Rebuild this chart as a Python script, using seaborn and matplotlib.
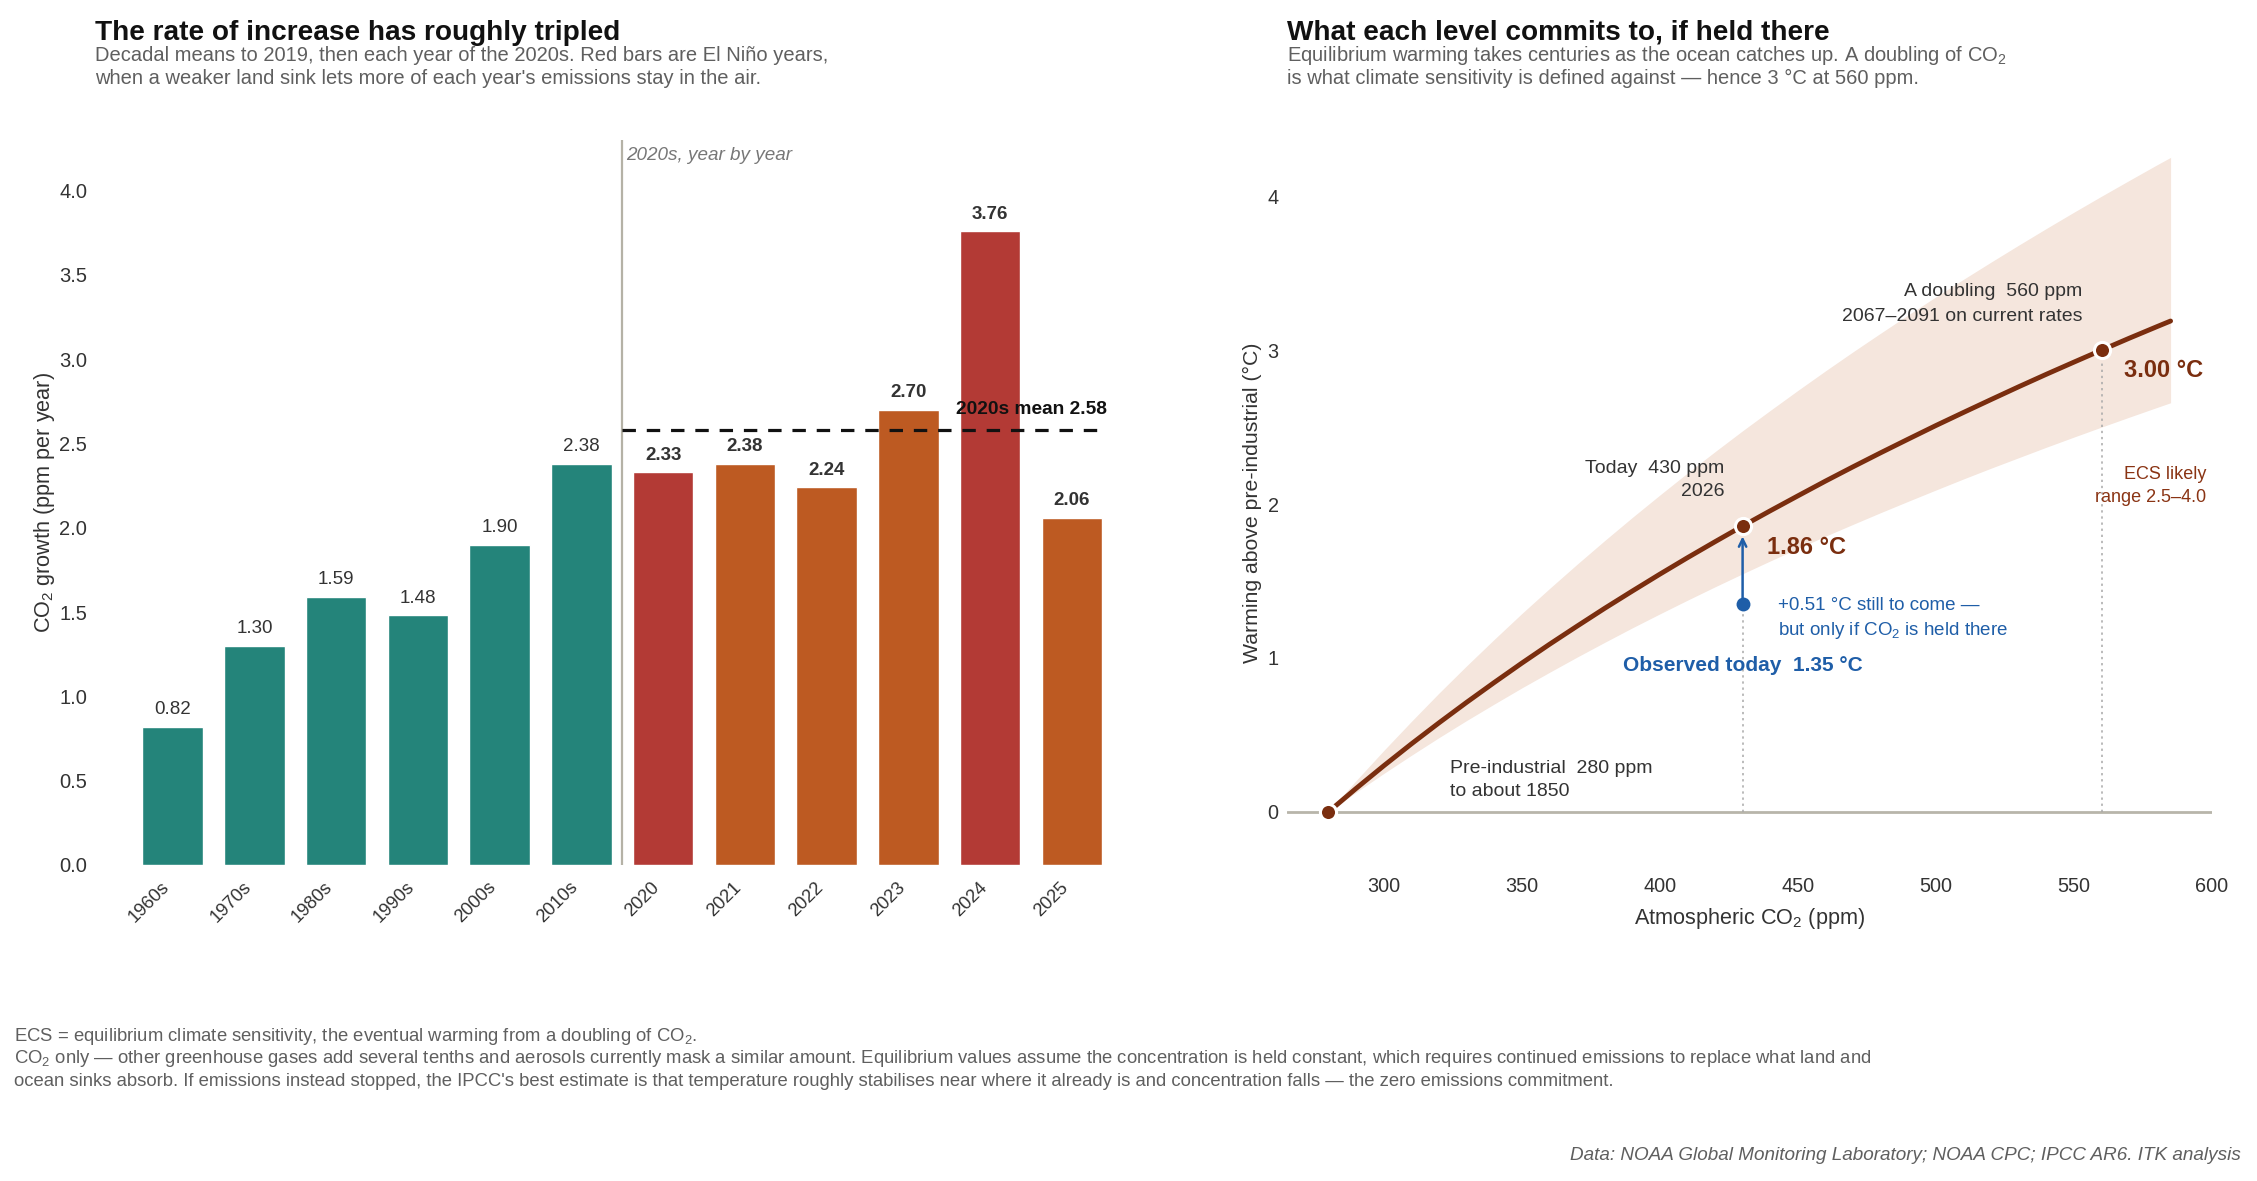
import numpy as np
import pandas as pd
import matplotlib
matplotlib.use("Agg")
import matplotlib.pyplot as plt
import seaborn as sns

# ---------------- data ----------------
periods = ["1960s", "1970s", "1980s", "1990s", "2000s", "2010s",
           "2020", "2021", "2022", "2023", "2024", "2025"]
growth = [0.82, 1.30, 1.59, 1.48, 1.90, 2.38,
          2.33, 2.38, 2.24, 2.70, 3.76, 2.06]
period_kind = ["decade"] * 6 + ["El Niño", "other", "other", "other", "El Niño", "other"]
mean_2020s = 2.58

ppm = [280, 290, 300, 310, 320, 330, 340, 350, 360, 370, 380, 390, 400, 410, 420, 430,
       440, 450, 460, 470, 480, 490, 500, 510, 520, 530, 540, 550, 560, 570, 580, 585]
warming_central = [0.000, 0.152, 0.299, 0.441, 0.578, 0.711, 0.840, 0.966, 1.088, 1.206,
                   1.322, 1.434, 1.544, 1.651, 1.755, 1.857, 1.956, 2.053, 2.149, 2.242,
                   2.333, 2.422, 2.510, 2.595, 2.679, 2.762, 2.843, 2.922, 3.000, 3.077,
                   3.152, 3.189]
warming_low = [0.000, 0.127, 0.249, 0.367, 0.482, 0.593, 0.700, 0.805, 0.906, 1.005,
               1.101, 1.195, 1.286, 1.375, 1.462, 1.547, 1.630, 1.711, 1.791, 1.868,
               1.944, 2.018, 2.091, 2.163, 2.233, 2.301, 2.369, 2.435, 2.500, 2.564,
               2.627, 2.658]
warming_high = [0.000, 0.203, 0.398, 0.587, 0.771, 0.948, 1.120, 1.288, 1.450, 1.608,
                1.762, 1.912, 2.058, 2.201, 2.340, 2.476, 2.608, 2.738, 2.865, 2.989,
                3.110, 3.229, 3.346, 3.460, 3.572, 3.682, 3.790, 3.896, 4.000, 4.102,
                4.203, 4.252]
marker_ppm = [280, 430, 560]
marker_warming = [0.00, 1.86, 3.00]
observed_ppm = [430]
observed_warming = [1.35]

# ---------------- style ----------------
sns.set_theme(style="white")
plt.rcParams["font.family"] = ["Liberation Sans", "DejaVu Sans"]
plt.rcParams["mathtext.fontset"] = "custom"
plt.rcParams["mathtext.rm"] = "Liberation Sans"
plt.rcParams["mathtext.it"] = "Liberation Sans:italic"
plt.rcParams["mathtext.bf"] = "Liberation Sans:bold"

TEAL = "#24847a"
RED = "#b33a35"
ORANGE = "#bd5a22"
BROWN = "#7a2e0f"
BAND = "#f5e6dd"
BLUE = "#1f5ea8"
DARK = "#333333"
GREY = "#5f5f5f"

W, H = 2257, 1181
fig = plt.figure(figsize=(W / 100, H / 100), dpi=100)
fig.patch.set_facecolor("white")

ax1 = fig.add_axes([95 / W, 1 - 865 / H, (1121 - 95) / W, (865 - 140) / H])
ax2 = fig.add_axes([1287 / W, 1 - 865 / H, (2212 - 1287) / W, (865 - 140) / H])

# ---------------- left: bars ----------------
df = pd.DataFrame({"period": periods, "growth": growth, "kind": period_kind})
sns.barplot(data=df, x="period", y="growth", hue="kind",
            palette={"decade": TEAL, "El Niño": RED, "other": ORANGE},
            dodge=False, width=0.74, saturation=1, legend=False, ax=ax1)

n_dec = period_kind.count("decade")
for i, v in enumerate(growth):
    ax1.text(i, v + 0.05, f"{v:.2f}", ha="center", va="bottom",
             fontsize=13.5, color=DARK,
             fontweight="normal" if i < n_dec else "bold")

ax1.axvline(n_dec - 0.5, color="#b5b2a6", lw=1.6, zorder=0)
ax1.hlines(mean_2020s, n_dec - 0.5, len(periods) - 1 + 0.37, colors="#111111",
           lw=2.3, linestyles=(0, (4.2, 3.4)), zorder=4)
ax1.text(len(periods) - 1 + 0.43, mean_2020s + 0.07, f"2020s mean {mean_2020s:.2f}",
         ha="right", va="bottom", fontsize=13.8, fontweight="bold", color="#111111")
ax1.text(n_dec - 0.45, 4.21, "2020s, year by year", ha="left", va="center",
         fontsize=13.6, style="italic", color="#777777")

ax1.set_xlim(-0.95, 11.6)
ax1.set_ylim(0, 4.3)
ax1.set_yticks(np.arange(0, 4.01, 0.5))
ax1.set_yticklabels([f"{t:.1f}" for t in np.arange(0, 4.01, 0.5)])
ax1.set_xlabel("")
ax1.set_ylabel("CO$_2$ growth (ppm per year)", fontsize=15.6, color=DARK, labelpad=2)
ax1.tick_params(axis="y", length=0, labelsize=14.5, colors=DARK, pad=5.5)
ax1.tick_params(axis="x", length=0, labelsize=13.2, colors=DARK, pad=10)
for lab in ax1.get_xticklabels():
    lab.set_rotation(45)
    lab.set_ha("right")
sns.despine(ax=ax1, left=True, bottom=True)

# ---------------- right: warming curve ----------------
ax2.fill_between(ppm, warming_low, warming_high, color=BAND, lw=0, zorder=0)
ax2.axhline(0, color="#b8b5aa", lw=2, zorder=1)
ax2.vlines(observed_ppm[0], 0, observed_warming[0], colors="#a8a8a8", lw=1.1,
           linestyles=(0, (1.5, 2.5)), zorder=1)
ax2.vlines(marker_ppm[2], 0, marker_warming[2], colors="#a8a8a8", lw=1.1,
           linestyles=(0, (1.5, 2.5)), zorder=1)
sns.lineplot(x=ppm, y=warming_central, color=BROWN, lw=3.5, ax=ax2, zorder=3)
sns.scatterplot(x=marker_ppm, y=marker_warming, s=135, color=BROWN,
                edgecolor="white", linewidth=2.2, ax=ax2, zorder=5)
ax2.annotate("", xy=(observed_ppm[0], marker_warming[1] - 0.07),
             xytext=(observed_ppm[0], observed_warming[0] + 0.02),
             arrowprops=dict(arrowstyle="->,head_length=0.45,head_width=0.22",
                             color=BLUE, lw=1.8, shrinkA=0, shrinkB=0), zorder=4)
sns.scatterplot(x=observed_ppm, y=observed_warming, s=100, color=BLUE,
                edgecolor=BLUE, linewidth=0, ax=ax2, zorder=5)

ax2.text(553, 3.38, "A doubling  560 ppm", ha="right", va="center", fontsize=14, color=DARK)
ax2.text(553, 3.22, "2067–2091 on current rates", ha="right", va="center", fontsize=14, color=DARK)
ax2.text(568, 2.87, "3.00 °C", ha="left", va="center", fontsize=17, fontweight="bold", color=BROWN)
ax2.text(598, 2.19, "ECS likely", ha="right", va="center", fontsize=13, color="#8a3414")
ax2.text(598, 2.04, "range 2.5–4.0", ha="right", va="center", fontsize=13, color="#8a3414")
ax2.text(423.5, 2.23, "Today  430 ppm", ha="right", va="center", fontsize=14, color=DARK)
ax2.text(423.5, 2.08, "2026", ha="right", va="center", fontsize=14, color=DARK)
ax2.text(439, 1.72, "1.86 °C", ha="left", va="center", fontsize=17, fontweight="bold", color=BROWN)
ax2.text(443, 1.34, "+0.51 °C still to come —", ha="left", va="center", fontsize=13.5, color=BLUE)
ax2.text(443, 1.18, "but only if CO$_2$ is held there", ha="left", va="center", fontsize=13.5, color=BLUE)
ax2.text(430, 0.95, "Observed today  1.35 °C", ha="center", va="center", fontsize=15,
         fontweight="bold", color=BLUE)
ax2.text(324, 0.28, "Pre-industrial  280 ppm", ha="left", va="center", fontsize=14, color=DARK)
ax2.text(324, 0.13, "to about 1850", ha="left", va="center", fontsize=14, color=DARK)

ax2.set_xlim(265, 600)
ax2.set_ylim(-0.345, 4.365)
ax2.set_xticks([300, 350, 400, 450, 500, 550, 600])
ax2.set_yticks([0, 1, 2, 3, 4])
ax2.set_xlabel("Atmospheric CO$_2$ (ppm)", fontsize=15.6, color=DARK, labelpad=6.5)
ax2.set_ylabel("Warming above pre-industrial (°C)", fontsize=15.3, color=DARK, labelpad=4)
ax2.tick_params(axis="both", length=0, labelsize=14.3, colors=DARK)
ax2.tick_params(axis="x", pad=9)
ax2.tick_params(axis="y", pad=6)
sns.despine(ax=ax2, left=True, bottom=True)

# ---------------- titles and notes ----------------
fig.text(95 / W, 1 - 40 / H, "The rate of increase has roughly tripled",
         fontsize=20.2, fontweight="bold", color="#111111", va="baseline")
fig.text(95 / W, 1 - 61 / H,
         "Decadal means to 2019, then each year of the 2020s. Red bars are El Niño years,",
         fontsize=14.5, color=GREY, va="baseline")
fig.text(95 / W, 1 - 84 / H,
         "when a weaker land sink lets more of each year's emissions stay in the air.",
         fontsize=14.5, color=GREY, va="baseline")

fig.text(1287 / W, 1 - 40 / H, "What each level commits to, if held there",
         fontsize=20.2, fontweight="bold", color="#111111", va="baseline")
fig.text(1287 / W, 1 - 61 / H,
         "Equilibrium warming takes centuries as the ocean catches up. A doubling of CO$_2$",
         fontsize=14.5, color=GREY, va="baseline")
fig.text(1287 / W, 1 - 84 / H,
         "is what climate sensitivity is defined against — hence 3 °C at 560 ppm.",
         fontsize=14.5, color=GREY, va="baseline")

fig.text(14 / W, 1 - 1041 / H,
         "ECS = equilibrium climate sensitivity, the eventual warming from a doubling of CO$_2$.",
         fontsize=13.3, color=GREY, va="baseline")
fig.text(14 / W, 1 - 1063 / H,
         "CO$_2$ only — other greenhouse gases add several tenths and aerosols currently mask a similar amount. "
         "Equilibrium values assume the concentration is held constant, which requires continued emissions to replace what land and",
         fontsize=13.3, color=GREY, va="baseline")
fig.text(14 / W, 1 - 1086 / H,
         "ocean sinks absorb. If emissions instead stopped, the IPCC's best estimate is that temperature roughly "
         "stabilises near where it already is and concentration falls — the zero emissions commitment.",
         fontsize=13.3, color=GREY, va="baseline")
fig.text(2241 / W, 1 - 1160 / H,
         "Data: NOAA Global Monitoring Laboratory; NOAA CPC; IPCC AR6. ITK analysis",
         fontsize=13.6, color=GREY, style="italic", ha="right", va="baseline")

fig.savefig("out.png", dpi=100, facecolor="white")
